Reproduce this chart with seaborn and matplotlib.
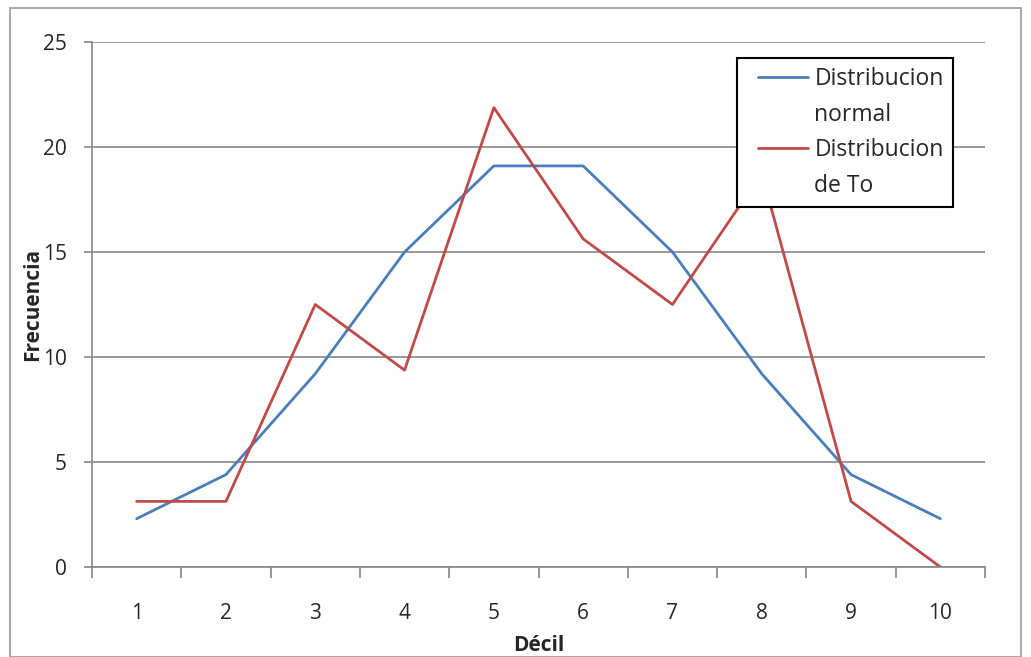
import matplotlib
matplotlib.use("Agg")
import matplotlib.pyplot as plt
import seaborn as sns
import pandas as pd
from matplotlib.patches import Rectangle
from matplotlib.lines import Line2D
from matplotlib.legend_handler import HandlerLine2D

# Frequencies per decile
deciles = [1, 2, 3, 4, 5, 6, 7, 8, 9, 10]
normal = [2.3, 4.4, 9.2, 15.0, 19.1, 19.1, 15.0, 9.2, 4.4, 2.3]
observed = [3.125, 3.125, 12.5, 9.375, 21.875, 15.625, 12.5, 18.75, 3.125, 0.0]
series_names = ["Distribucion normal", "Distribucion de To"]
legend_rows = ["Distribucion", "normal", "Distribucion", "de To"]
y_ticks = [0, 5, 10, 15, 20, 25]

df = pd.DataFrame({
    "Décil": deciles * 2,
    "Frecuencia": normal + observed,
    "serie": [series_names[0]] * len(deciles) + [series_names[1]] * len(deciles),
})

sns.set_theme(style="white")
plt.rcParams["font.family"] = ["Open Sans", "DejaVu Sans"]

fig = plt.figure(figsize=(10.31, 6.57), dpi=100)
ax = fig.add_axes([92 / 1031, 90 / 657, 893 / 1031, 525 / 657])

colors = ["#4A7EBB", "#BE4B48"]
palette = dict(zip(series_names, colors))
sns.lineplot(data=df, x="Décil", y="Frecuencia", hue="serie", palette=palette,
             linewidth=2, ax=ax, legend=False)

ax.set_xlim(0.5, 10.5)
ax.set_ylim(0, 25)
ax.set_yticks(y_ticks)
ax.set_yticklabels([str(t) for t in y_ticks], fontsize=15)
ax.yaxis.grid(True, color="#868686", linewidth=1.2)
ax.xaxis.grid(False)

# category labels centred, tick marks on the category boundaries
ax.set_xticks(deciles)
ax.set_xticklabels([str(d) for d in deciles], fontsize=15)
ax.set_xticks([d - 0.5 for d in deciles] + [10.5], minor=True)
ax.tick_params(bottom=True, left=True, which="both")
ax.tick_params(axis="x", which="major", length=0, pad=26)
ax.tick_params(axis="x", which="minor", length=8, width=1.2, color="#868686", direction="out")
ax.tick_params(axis="y", length=6, width=1.2, color="#868686", direction="out", pad=12)

for side in ["top", "right"]:
    ax.spines[side].set_visible(False)
for side in ["left", "bottom"]:
    ax.spines[side].set_color("#868686")
    ax.spines[side].set_linewidth(1.2)

ax.set_xlabel("Décil", fontsize=15, fontweight="bold", labelpad=8)
ax.set_ylabel("Frecuencia", fontsize=15, fontweight="bold", labelpad=0)


class IndentedLine(HandlerLine2D):
    """Line sample drawn with some empty space before it."""

    def create_artists(self, legend, orig_handle, xdescent, ydescent,
                       width, height, fontsize, trans):
        lead = 0.5 * fontsize
        return super().create_artists(legend, orig_handle, xdescent - lead, ydescent,
                                      width - lead, height, fontsize, trans)


# legend: each series name wraps onto a second row under its line sample
handles = [
    Line2D([], [], color=colors[0], linewidth=2),
    Line2D([], [], color="none"),
    Line2D([], [], color=colors[1], linewidth=2),
    Line2D([], [], color="none"),
]
leg = ax.legend(handles, legend_rows, loc="upper left",
                bbox_to_anchor=((737 - 92) / 893, (567 - 58) / 525),
                fontsize=16.5, frameon=True, fancybox=False, framealpha=1,
                edgecolor="black", handlelength=2.7, labelspacing=0.5,
                borderpad=0.4, handletextpad=0.28, borderaxespad=0,
                handler_map={Line2D: IndentedLine()})
leg.get_frame().set_linewidth(1.5)

# outer chart border
fig.patches.append(Rectangle((10 / 1031, 0), 1011 / 1031, 649 / 657,
                             transform=fig.transFigure, fill=False,
                             edgecolor="#9a9a9a", linewidth=1.2))

fig.savefig("out.png", dpi=100)
